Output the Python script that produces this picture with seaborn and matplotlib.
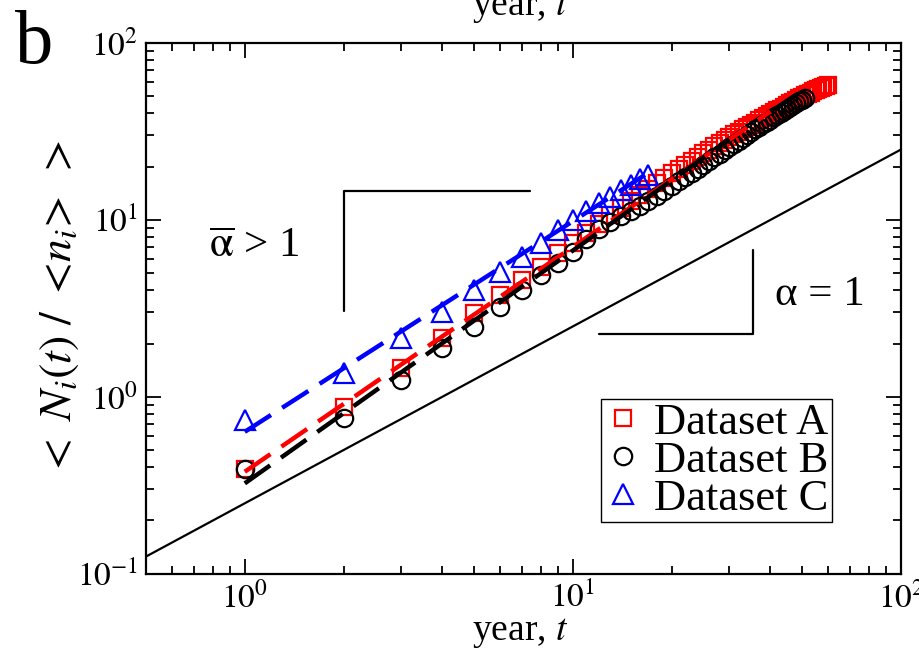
import numpy as np
import pandas as pd
import seaborn as sns
import matplotlib
matplotlib.use('Agg')
from matplotlib import pyplot as plt
from matplotlib.ticker import LogLocator, NullFormatter, FuncFormatter

# valores (ano t e <N_i(t)>/<n_i>)
years_a = list(range(1, 61))
dataset_a = [0.39, 0.88, 1.45, 2.14, 2.96, 3.75, 4.56, 5.42, 6.46, 7.36,
             8.4, 9.5, 10.6, 11.7, 12.8, 13.9, 15.0, 16.1, 17.2, 18.3,
             19.4, 20.5, 21.6, 22.7, 23.8, 24.9, 26.0, 27.1, 28.2, 29.3,
             30.4, 31.5, 32.5, 33.5, 34.5, 35.5, 36.5, 37.5, 38.5, 39.6,
             40.6, 41.6, 42.6, 43.6, 44.6, 45.6, 46.6, 47.6, 48.6, 49.6,
             50.6, 51.6, 52.5, 53.4, 54.3, 55.1, 55.9, 56.7, 57.4, 58.0]

years_b = list(range(1, 52))
dataset_b = [0.39, 0.755, 1.24, 1.88, 2.49, 3.22, 4.01, 4.87, 5.67, 6.6,
             7.8, 8.9, 9.7, 10.5, 11.2, 12.0, 12.8, 13.7, 14.6, 15.5,
             16.5, 17.5, 18.5, 19.5, 20.5, 21.6, 22.6, 23.7, 24.8, 25.9,
             27.0, 28.1, 29.2, 30.3, 31.4, 32.5, 33.6, 34.7, 35.8, 36.9,
             38.0, 39.1, 40.2, 41.3, 42.4, 43.5, 44.6, 45.6, 46.7, 47.8, 48.8]

years_c = list(range(1, 18))
dataset_c = [0.74, 1.36, 2.14, 3.02, 4.01, 5.08, 6.18, 7.36, 8.75, 9.96,
             11.3, 12.4, 13.5, 14.7, 15.7, 17.1, 17.9]

# retas ajustadas (tracejadas), extremos
fit_t_a = [1, 40]
fit_a = [0.377, 41.0]
fit_t_b = [1, 30]
fit_b = [0.324, 28.5]
fit_t_c = [1, 17]
fit_c = [0.634, 18.5]

# reta alpha = 1
ref_t = [0.5, 100]
ref_y = [0.125, 25]

# guias de inclinacao
guide1_t = [2, 2, 7.4]
guide1_y = [3.05, 14.5, 14.5]
guide2_t = [12, 35.4, 35.4]
guide2_y = [2.26, 2.26, 6.8]

sns.set_theme(style='ticks')
plt.rcParams['font.family'] = ['Liberation Serif', 'DejaVu Serif']
plt.rcParams['mathtext.fontset'] = 'stix'
plt.rcParams['text.color'] = 'black'
plt.rcParams['axes.labelcolor'] = 'black'
plt.rcParams['xtick.color'] = 'black'
plt.rcParams['ytick.color'] = 'black'

fig = plt.figure(figsize=(9.2, 6.49), dpi=100)
ax = fig.add_axes([146 / 920, 1 - 573.7 / 649, 755 / 920, 530.7 / 649])
ax.set_xscale('log')
ax.set_yscale('log')

sns.lineplot(x=ref_t, y=ref_y, color='black', lw=1.6, ax=ax, legend=False)
sns.lineplot(x=guide1_t, y=guide1_y, color='black', lw=1.6, ax=ax, sort=False, estimator=None, legend=False)
sns.lineplot(x=guide2_t, y=guide2_y, color='black', lw=1.6, ax=ax, sort=False, estimator=None, legend=False)

dfa = pd.DataFrame({'t': years_a, 'v': dataset_a})
dfb = pd.DataFrame({'t': years_b, 'v': dataset_b})
dfc = pd.DataFrame({'t': years_c, 'v': dataset_c})

handles = []
for df, mk, cor, lab, ms in [(dfa, 's', 'red', 'Dataset A', 12),
                             (dfb, 'o', 'black', 'Dataset B', 12.5),
                             (dfc, '^', 'blue', 'Dataset C', 14)]:
    sns.lineplot(data=df, x='t', y='v', ax=ax, estimator=None, linestyle='',
                 marker=mk, ms=ms, mfc='none', mec=cor, mew=1.6, color=cor, legend=False)
    h = ax.lines[-1]
    h.set_label(lab)
    handles.append(h)

for ft, fv, cor in [(fit_t_a, fit_a, 'red'), (fit_t_b, fit_b, 'black'), (fit_t_c, fit_c, 'blue')]:
    sns.lineplot(x=ft, y=fv, ax=ax, color=cor, lw=3.2, linestyle=(0, (7, 3)), legend=False)

ax.set_xlim(0.5, 100)
ax.set_ylim(0.1, 100)
fmt = FuncFormatter(lambda v, pos: r'$\mathrm{10}^{%d}$' % round(np.log10(v)))
for eixo in (ax.xaxis, ax.yaxis):
    eixo.set_major_locator(LogLocator(base=10, numticks=10))
    eixo.set_minor_locator(LogLocator(base=10, subs=np.arange(2, 10), numticks=30))
    eixo.set_major_formatter(fmt)
    eixo.set_minor_formatter(NullFormatter())
ax.tick_params(which='both', direction='in', top=True, right=True, width=1.3, color='black')
ax.tick_params(which='major', length=11, labelsize=24, pad=6)
ax.tick_params(which='minor', length=6)
for s in ax.spines.values():
    s.set_linewidth(1.6)
    s.set_color('black')

ax.set_xlabel('year, $t$', fontsize=27, va='baseline')
ax.xaxis.set_label_coords(0.495, -0.125)
ax.set_ylabel(r'$<\ N_i(t)\ /\ <\!n_i\!>\ >$', fontsize=33, va='center')
ax.yaxis.set_label_coords(-0.114, 0.5)

ax.text(0.083, 0.597, r'$\overline{\mathrm{\alpha}}$ > 1', transform=ax.transAxes, fontsize=31, va='baseline')
ax.text(0.833, 0.506, 'α = 1', transform=ax.transAxes, fontsize=31, va='baseline')

leg = ax.legend(handles=handles, loc='upper left', bbox_to_anchor=(0.603, 0.329), fontsize=32,
                frameon=True, fancybox=False, edgecolor='black', framealpha=1, borderpad=0.08,
                labelspacing=-0.05, handlelength=0.8, handletextpad=0.3, borderaxespad=0)
leg.get_frame().set_linewidth(1.0)

fig.text(15 / 920, 1 - 63 / 649, 'b', fontsize=55, va='baseline', ha='left')
fig.text(520 / 920, 1 - 15 / 649, 'year, $t$', fontsize=27, va='baseline', ha='center')

fig.savefig('out.png', dpi=100)
